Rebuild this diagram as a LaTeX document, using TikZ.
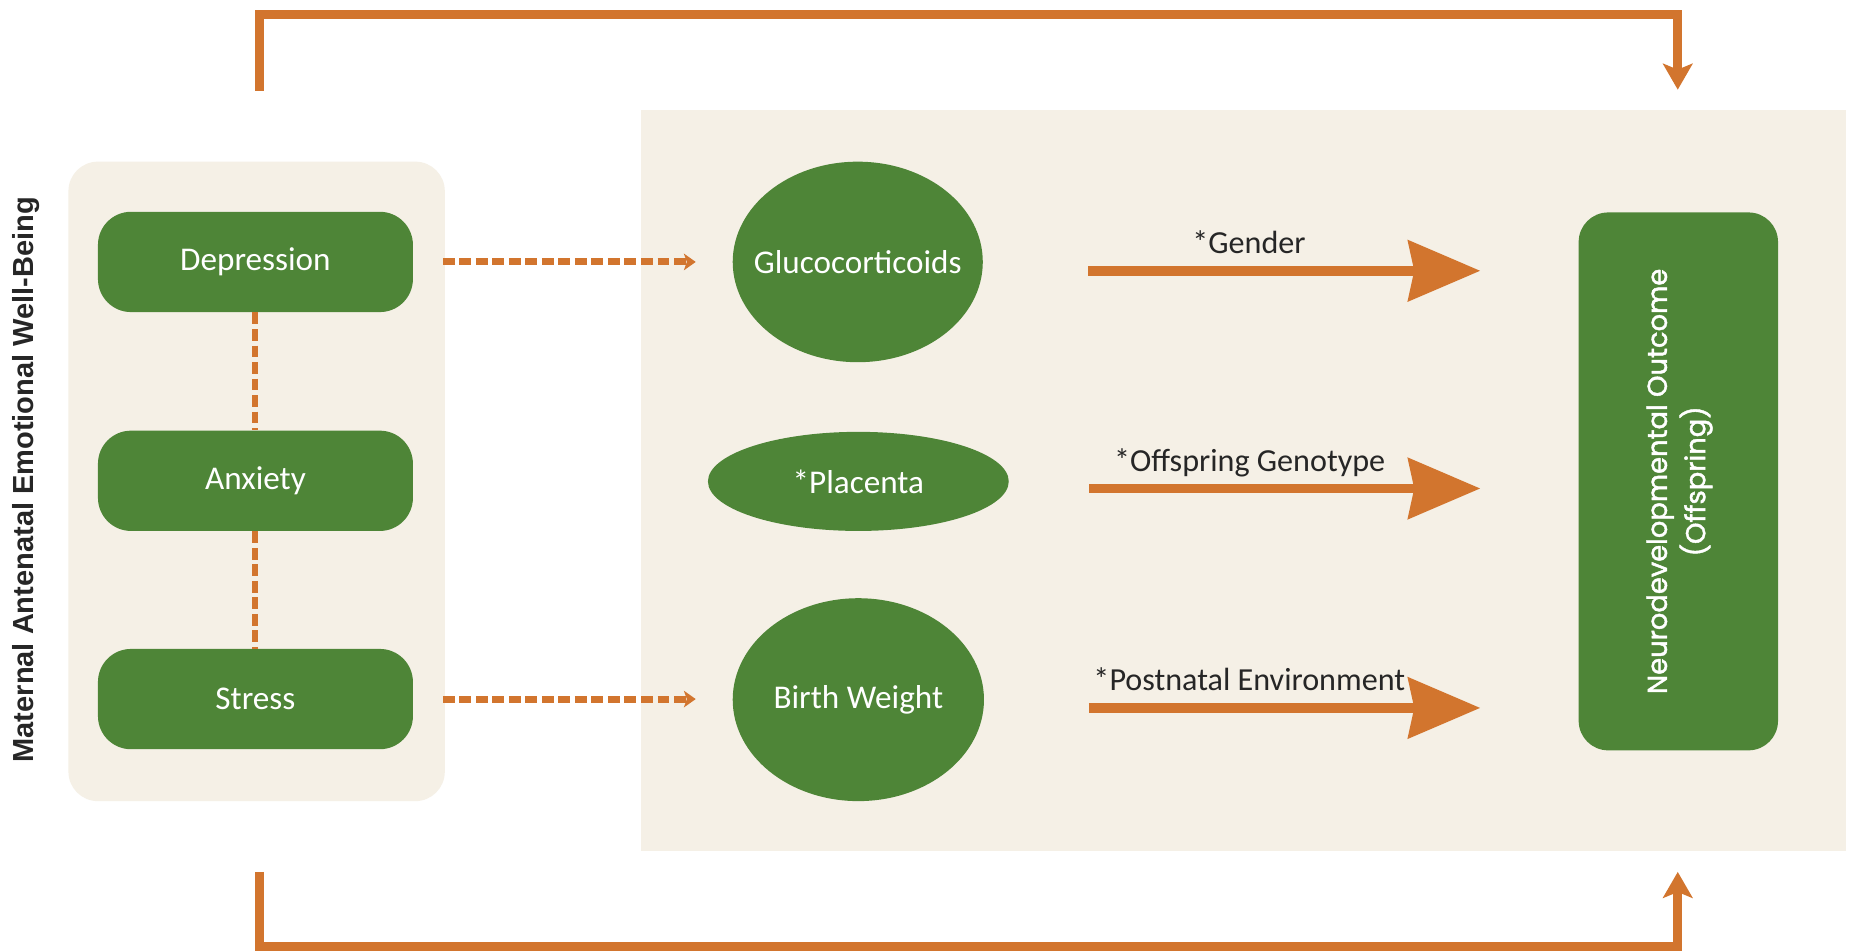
\documentclass[tikz,border=0pt]{standalone}
\usepackage{fontspec}
\setmainfont{Carlito}
\newfontfamily\sidefont{Liberation Sans}
\newfontfamily\outfont{Poppins}[FakeBold=1.6]
\usetikzlibrary{arrows.meta,shapes.geometric,calc}
\definecolor{leaf}{HTML}{4E8537}
\definecolor{rust}{HTML}{D2752E}
\definecolor{sand}{HTML}{F5F0E6}
\definecolor{ink}{HTML}{262626}

\begin{document}
\begin{tikzpicture}[x=0.02cm,y=-0.02cm,
  factor/.style={rounded corners=0.56cm, fill=leaf, minimum width=5.34cm, minimum height=1.7cm,
    text=white, font=\fontsize{16}{19}\selectfont, inner sep=0},
  blob/.style={ellipse, fill=leaf, text=white, font=\fontsize{16}{19}\selectfont, inner sep=0},
  link/.style={rust, line width=0.1cm, dash pattern=on 0.2cm off 0.08cm},
  pathway/.style={rust, line width=0.12cm, dash pattern=on 0.2cm off 0.08cm,
    -{Stealth[length=0.2cm,width=0.28cm,inset=0.05cm]}},
  effect/.style={rust, line width=0.16cm, -{Stealth[length=1.22cm,width=1.02cm,inset=0.1cm]}},
  moderator/.style={text=ink, font=\fontsize{15.5}{18}\selectfont, anchor=base, inner sep=0,
    pos=0.41, yshift=0.29cm},
  direct/.style={rust, line width=0.15cm, line join=miter,
    -{Stealth[length=0.44cm,width=0.5cm,inset=0.1cm]}}
]
\useasboundingbox (0,0) rectangle (1568,806);
\fill[white] (0,0) rectangle (1568,806);

% background panels
\fill[sand] (543,93) rectangle (1565,721);
\fill[sand, rounded corners=0.5cm] (58,137) rectangle (377,679);

% side title
\node[text=ink, inner sep=0, font=\sidefont\bfseries\fontsize{14}{17}\selectfont] (title) at (22,406.5)
  {\rotatebox{90}{Maternal Antenatal Emotional Well-Being}};

% maternal factors
\node[factor] (dep) at (216.5,222) {Depression};
\node[factor] (anx) at (216.5,407.5) {Anxiety};
\node[factor] (str) at (216.5,592.5) {Stress};

% mediators (labels kept zero-width so the ellipse keeps its set size)
\node[blob, minimum width=4.24cm, minimum height=3.4cm] (glu) at (727,222) {\makebox[0pt]{Glucocorticoids}};
\node[blob, minimum width=5.1cm, minimum height=1.68cm] (pla) at (727.5,408) {\makebox[0pt]{*Placenta}};
\node[blob, minimum width=4.26cm, minimum height=3.44cm] (bw) at (727.5,593) {\makebox[0pt]{Birth Weight}};

% outcome
\node[fill=leaf, rounded corners=0.5cm, minimum width=3.38cm, minimum height=9.12cm, inner sep=0,
  text=white, font=\outfont\fontsize{13.2}{18.5}\selectfont] (out) at (1422.5,408)
  {\rotatebox{90}{\begin{tabular}{@{}c@{}}Neurodevelopmental Outcome\\(Offspring)\end{tabular}}};

% links among the maternal factors
\draw[link] (dep) -- (anx);
\draw[link] (anx) -- (str);

% pathways to the mediators
\draw[pathway, shorten <=0.5cm, shorten >=0.62cm] (dep.east) -- (dep.east -| glu.west);
\draw[pathway, shorten <=0.5cm, shorten >=0.62cm] (str.east) -- (str.east -| bw.west);

% moderated effects on the outcome
\draw[effect] ($(glu.east)+(89,7.5)$) -- ($(glu.east -| out.west)+(-83,7.5)$)
  node[moderator] {*Gender};
\draw[effect] ($(pla.east)+(68,6)$) -- ($(pla.east -| out.west)+(-83,6)$)
  node[moderator] {*Offspring Genotype};
\draw[effect] ($(bw.east)+(88.5,7)$) -- ($(bw.east -| out.west)+(-83,7)$)
  node[moderator] {*Postnatal Environment};

% direct effects around the mediators
\coordinate (topL) at (220,77);
\coordinate (topR) at (1422,76);
\coordinate (botL) at (220,739);
\coordinate (botR) at (1422,739);
\draw[direct] (topL) -- ++(0,-65) -| (topR);
\draw[direct] (botL) -- ++(0,63) -| (botR);
\end{tikzpicture}
\end{document}
